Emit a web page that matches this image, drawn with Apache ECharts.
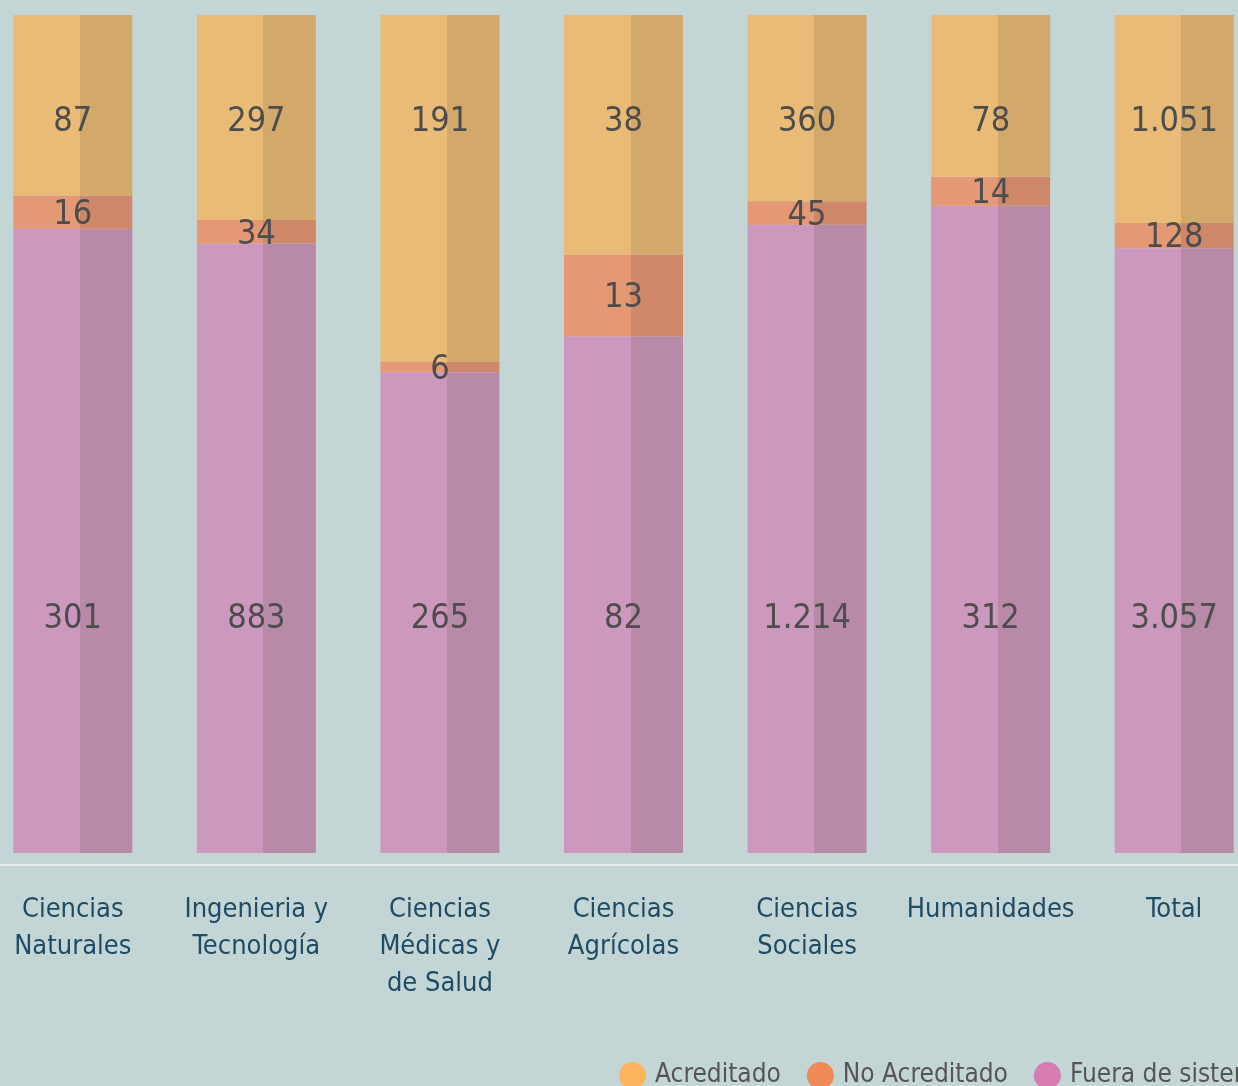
<!DOCTYPE html>
<html>
<head>
<meta charset="utf-8">
<script src="https://cdn.jsdelivr.net/npm/echarts@6/dist/echarts.min.js"></script>
<style>
  html, body { margin: 0; padding: 0; background: #c4d5d6; }
  #chart { width: 1238px; height: 1086px; }
</style>
</head>
<body>
<div id="chart"></div>
<script>
const categories = [
  "Ciencias\nNaturales",
  "Ingenieria y\nTecnología",
  "Ciencias\nMédicas y\nde Salud",
  "Ciencias\nAgrícolas",
  "Ciencias\nSociales",
  "Humanidades",
  "Total"
];
const acreditado = [87, 297, 191, 38, 360, 78, 1051];
const noAcreditado = [16, 34, 6, 13, 45, 14, 128];
const fueraSistema = [301, 883, 265, 82, 1214, 312, 3057];

const font = "'DejaVu Sans Condensed', 'Liberation Sans Narrow', 'Roboto', sans-serif";

// totales por categoria -> porcentaje (barras al 100%)
const totals = categories.map((c, i) => acreditado[i] + noAcreditado[i] + fueraSistema[i]);
const pct = arr => arr.map((v, i) => v / totals[i] * 100);

const fmt = v => String(v).replace(/\B(?=(\d{3})+(?!\d))/g, ".");

// color claro a la izquierda, sombra a la derecha
function split(light, dark) {
  return new echarts.graphic.LinearGradient(0, 0, 1, 0, [
    { offset: 0, color: light },
    { offset: 0.56, color: light },
    { offset: 0.56, color: dark },
    { offset: 1, color: dark }
  ]);
}

const labelBase = {
  show: true,
  fontFamily: font,
  fontSize: 34,
  color: "#4d4d4d",
  align: "center",
  verticalAlign: "middle"
};

const chart = echarts.init(document.getElementById("chart"));
chart.setOption({
  backgroundColor: "#c4d5d6",
  animation: false,
  grid: {
    left: -19,
    right: -28,
    top: 15,
    bottom: 221,
    outerBoundsMode: "none"
  },
  legend: {
    left: 614,
    top: 1057,
    width: 900,
    icon: "circle",
    itemWidth: 27,
    itemHeight: 27,
    itemGap: 26,
    textStyle: { fontFamily: font, fontSize: 26, color: "#555", padding: [0, 0, 0, 4] },
    data: [
      { name: "Acreditado", itemStyle: { color: "#fdb55b" } },
      { name: "No Acreditado", itemStyle: { color: "#f08a58" } },
      { name: "Fuera de sistema", itemStyle: { color: "#d67db4" } }
    ]
  },
  xAxis: {
    type: "category",
    data: categories,
    axisLine: { onZero: false, lineStyle: { color: "#e6ecec", width: 2 } },
    axisTick: { show: false },
    axisLabel: {
      interval: 0,
      margin: 26,
      fontFamily: font,
      fontSize: 27,
      lineHeight: 37,
      color: "#1e4b66"
    }
  },
  yAxis: {
    type: "value",
    show: false,
    min: -1.43,
    max: 100,
    splitLine: { show: false }
  },
  series: [
    {
      name: "Fuera de sistema",
      type: "bar",
      stack: "all",
      barWidth: 119,
      data: pct(fueraSistema),
      itemStyle: { color: split("#cd98bd", "#b88aa8") },
      label: Object.assign({}, labelBase, {
        position: "insideBottom",
        distance: 234,
        formatter: p => fmt(fueraSistema[p.dataIndex])
      })
    },
    {
      name: "No Acreditado",
      type: "bar",
      stack: "all",
      barWidth: 119,
      data: pct(noAcreditado),
      itemStyle: { color: split("#e49874", "#ce8869") },
      label: Object.assign({}, labelBase, {
        position: "inside",
        offset: [0, 3],
        formatter: p => fmt(noAcreditado[p.dataIndex])
      })
    },
    {
      name: "Acreditado",
      type: "bar",
      stack: "all",
      barWidth: 119,
      data: pct(acreditado),
      itemStyle: { color: split("#eabb76", "#d3a96b") },
      label: Object.assign({}, labelBase, {
        position: "insideTop",
        distance: 107,
        formatter: p => fmt(acreditado[p.dataIndex])
      })
    }
  ]
});
</script>
</body>
</html>
